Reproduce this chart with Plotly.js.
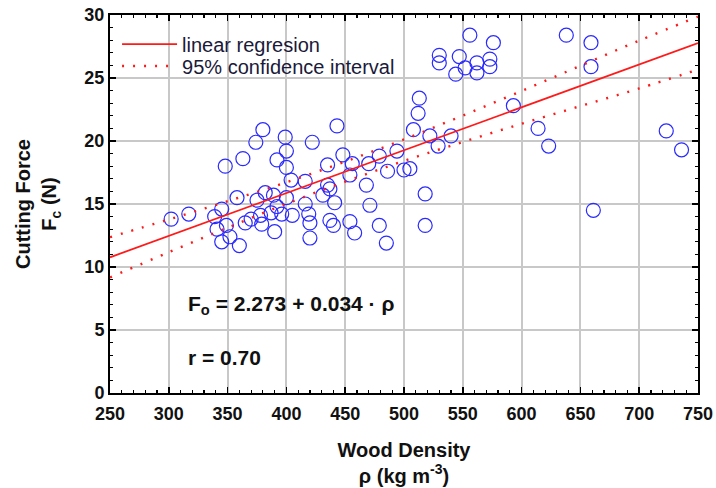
<!DOCTYPE html>
<html>
<head>
<meta charset="utf-8">
<script src="https://cdn.plot.ly/plotly-3.0.1.min.js"></script>
<style>html,body{margin:0;padding:0;background:#fff;}#chart{width:716px;height:488px;}</style>
</head>
<body>
<div id="chart"></div>
<script>
// Measured points: wood density (kg m^-3) and cutting force (N)
const density = [302,317,339,341,345,345,348,349,352,358,360,363,365,370,374,375,378,379,380,382,387,389,390,392,392,396,399,400,400,400,404,405,416,416,419,420,420,422,431,435,435,437,437,440,441,443,448,454,454,456,458,468,470,471,479,479,485,486,494,500,505,508,512,513,518,518,522,529,530,530,540,544,547,552,556,562,562,573,573,576,593,614,623,638,659,659,661,723,736];
const force   = [13.8,14.2,14.0,13.0,14.6,12.0,18.0,13.3,12.4,15.5,11.7,18.6,13.5,13.8,19.9,15.3,14.1,13.4,20.9,15.9,14.3,15.7,12.8,18.5,14.8,14.2,20.3,19.2,17.9,15.5,16.9,14.1,16.8,15.0,14.2,13.5,12.3,19.9,15.7,18.1,16.5,16.2,13.7,13.3,15.1,21.2,18.9,17.3,13.6,18.2,12.7,16.5,18.2,14.9,18.8,13.3,11.9,17.6,19.2,17.7,17.8,20.9,22.2,23.4,15.8,13.3,20.4,19.6,26.8,26.2,20.4,25.3,26.7,25.8,28.4,26.2,25.4,26.5,25.9,27.8,22.8,21.0,19.6,28.4,27.8,25.9,14.5,20.8,19.3];

// Regression line end points (Fo = 2.273 + 0.034 * rho)
const regX = [250, 750];
const regY = [10.77, 27.77];

// 95% confidence band
const ciX     = [250, 300, 350, 400, 450, 500, 550, 600, 650, 700, 750];
const ciUpper = [12.37, 13.77, 15.22, 16.72, 18.37, 20.12, 22.02, 23.97, 25.97, 27.97, 29.87];
const ciLower = [9.17, 11.17, 13.12, 15.02, 16.77, 18.42, 19.92, 21.37, 22.77, 24.17, 25.67];

// Axis ticks
const xTicks = [250,300,350,400,450,500,550,600,650,700,750];
const yTicks = [0,5,10,15,20,25,30];

const red = '#ff1a1a';
const textCol = '#111111';
const fontFam = 'Liberation Sans, Arial, sans-serif';

const traces = [
  {
    x: density, y: force, type: 'scatter', mode: 'markers', showlegend: false,
    marker: {symbol: 'circle-open', size: 14, color: '#2a2aff', line: {width: 1.2, color: '#2a2aff'}},
    hoverinfo: 'x+y'
  },
  {
    x: regX, y: regY, type: 'scatter', mode: 'lines', name: 'linear regresion', legend: 'legend',
    line: {color: red, width: 1.8}
  },
  {
    x: ciX, y: ciUpper, type: 'scatter', mode: 'lines', name: '95% confidence interval', legend: 'legend2',
    line: {color: red, width: 2.4, dash: '2px,9px', shape: 'spline'}
  },
  {
    x: ciX, y: ciLower, type: 'scatter', mode: 'lines', showlegend: false,
    line: {color: red, width: 2.4, dash: '2px,9px', shape: 'spline'}
  }
];

const axisCommon = {
  showline: true, linecolor: '#000', linewidth: 2, mirror: 'ticks',
  ticks: 'inside', ticklen: 6, tickwidth: 1.5, tickcolor: '#000',
  showgrid: true, gridcolor: '#c8c8c8', gridwidth: 2,
  zeroline: false,
  tickfont: {family: fontFam, size: 18, color: textCol, weight: 'bold'}
};

const legendCommon = {
  xanchor: 'left', yanchor: 'middle',
  bgcolor: 'rgba(0,0,0,0)', borderwidth: 0,
  font: {family: fontFam, size: 20, color: '#1a1a3a'},
  itemwidth: 55, tracegroupgap: 0
};

const layout = {
  width: 716, height: 488,
  margin: {l: 110, r: 18, t: 15, b: 95},
  paper_bgcolor: '#fff', plot_bgcolor: '#fff',
  xaxis: Object.assign({}, axisCommon, {
    range: [250, 750], tickvals: xTicks, ticktext: xTicks.map(String),
    ticklabelstandoff: 3,
    minor: {dtick: 10, ticks: 'inside', ticklen: 3, tickcolor: '#000', tickwidth: 1.2, showgrid: false},
    title: {text: '<b>Wood Density</b><br><b>ρ (kg m<sup>-3</sup>)</b>', standoff: 20,
            font: {family: fontFam, size: 20, color: textCol}}
  }),
  yaxis: Object.assign({}, axisCommon, {
    range: [0, 30], tickvals: yTicks, ticktext: yTicks.map(String),
    minor: {dtick: 1, ticks: 'inside', ticklen: 3, tickcolor: '#000', tickwidth: 1.2, showgrid: false},
    title: {text: '<b>Cutting Force</b><br><b>F<sub>c</sub> (N)</b>', standoff: 22,
            font: {family: fontFam, size: 20, color: textCol}}
  }),
  legend: Object.assign({}, legendCommon, {x: 0.012, y: 0.923}),
  legend2: Object.assign({}, legendCommon, {x: 0.012, y: 0.865}),
  shapes: [
    {type: 'rect', xref: 'paper', yref: 'paper', x0: 0.005, x1: 0.495, y0: 0.835, y1: 0.985,
     fillcolor: '#fff', line: {width: 0}, layer: 'between'}
  ],
  annotations: [
    {xref: 'paper', yref: 'paper', x: 0.129, y: 0.232, xanchor: 'left', yanchor: 'middle', showarrow: false,
     text: '<b>F<sub>o</sub> = 2.273 + 0.034 · ρ</b>', font: {family: fontFam, size: 21, color: textCol}},
    {xref: 'paper', yref: 'paper', x: 0.129, y: 0.095, xanchor: 'left', yanchor: 'middle', showarrow: false,
     text: '<b>r = 0.70</b>', font: {family: fontFam, size: 21, color: textCol}}
  ],
  showlegend: true
};

Plotly.newPlot('chart', traces, layout, {displayModeBar: false, staticPlot: true});
</script>
</body>
</html>
